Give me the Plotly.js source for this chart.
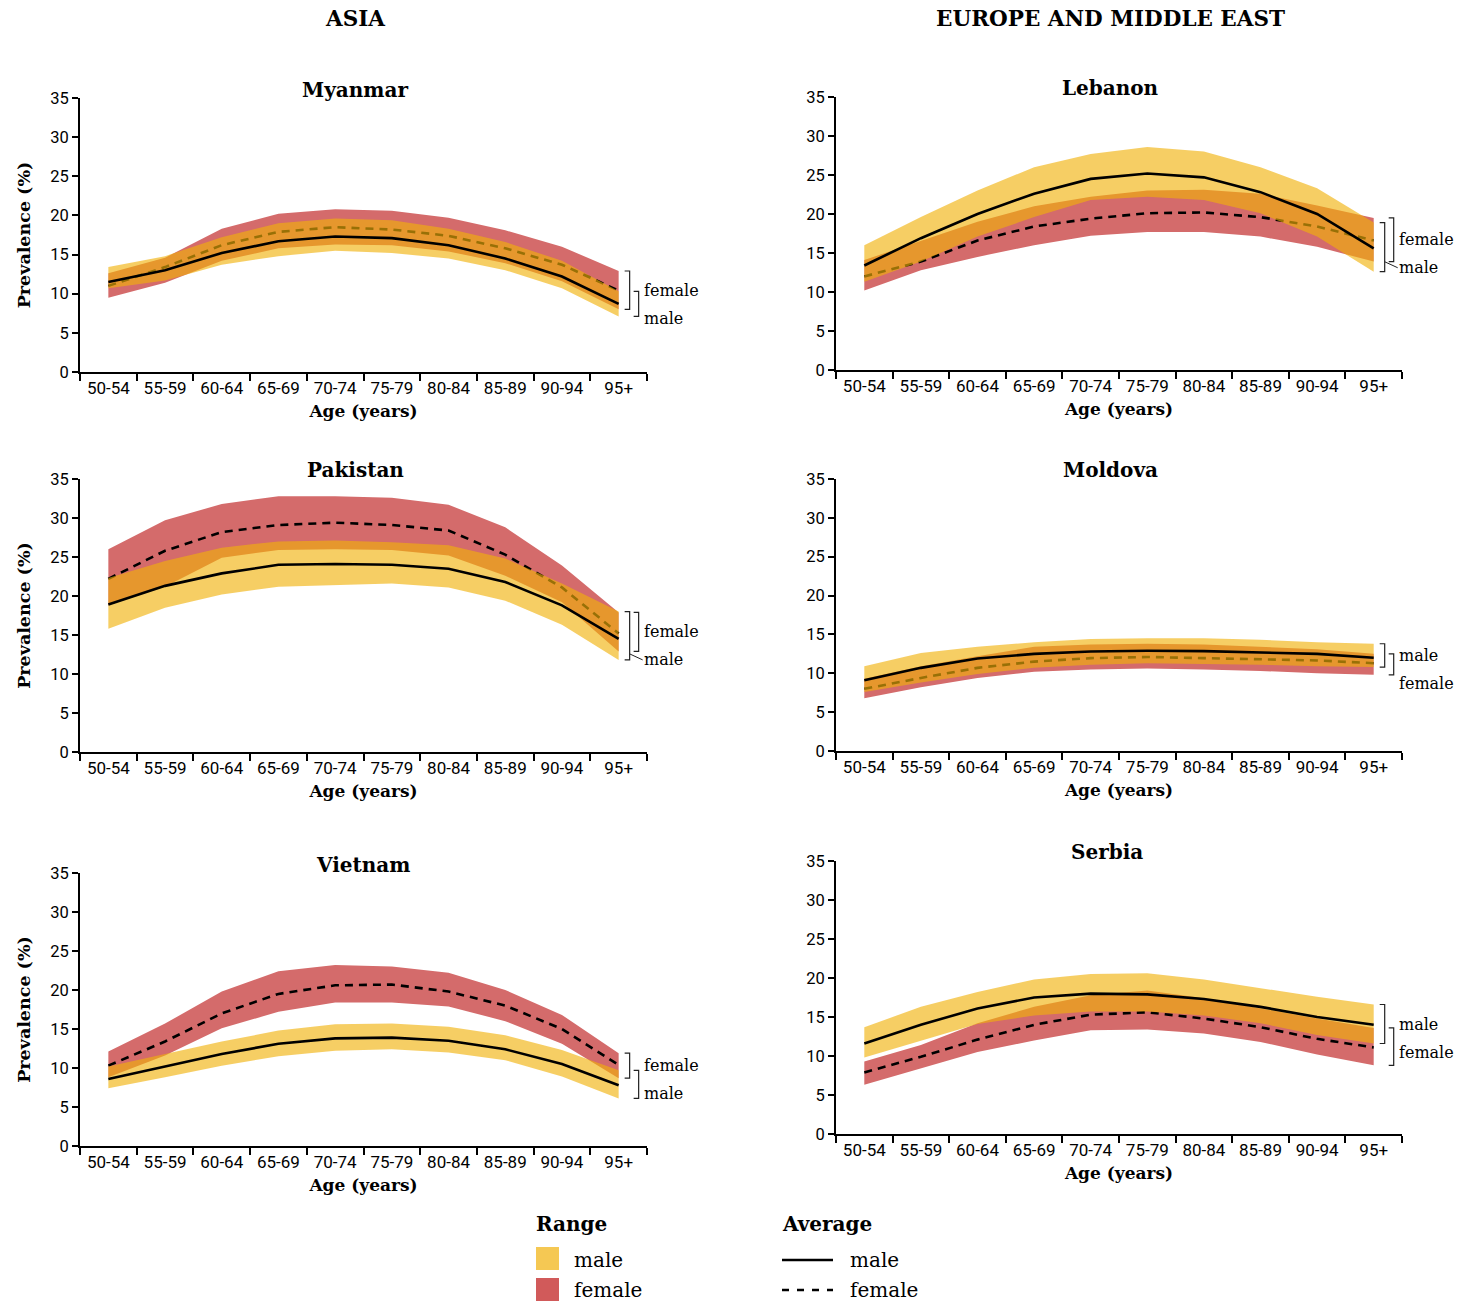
<!DOCTYPE html>
<html>
<head>
<meta charset="utf-8">
<script src="https://cdn.plot.ly/plotly-3.0.1.min.js"></script>
<style>html,body{margin:0;padding:0;background:#fff;}</style>
</head>
<body>
<div id="chart" style="width:1462px;height:1302px;"></div>
<script>
// ---------- DATA ----------
const ageGroups = ['50-54','55-59','60-64','65-69','70-74','75-79','80-84','85-89','90-94','95+'];
const yTickValues = [0, 5, 10, 15, 20, 25, 30, 35];
const countries = ['Myanmar','Lebanon','Pakistan','Moldova','Vietnam','Serbia'];
const regionTitles = ['ASIA','EUROPE AND MIDDLE EAST'];
const sexLabels = ['male','female'];

const myanmarMaleAvg   = [11.5, 13.0, 15.2, 16.7, 17.3, 17.1, 16.2, 14.5, 12.2, 8.7];
const myanmarMaleHi    = [13.4, 14.8, 17.2, 19.0, 19.6, 19.4, 18.3, 16.6, 14.2, 10.3];
const myanmarMaleLo    = [10.7, 11.7, 13.7, 14.8, 15.5, 15.2, 14.5, 13.0, 10.7, 7.1];
const myanmarFemaleAvg = [11.0, 13.4, 16.2, 17.9, 18.5, 18.2, 17.4, 15.8, 13.7, 10.4];
const myanmarFemaleHi  = [12.6, 14.6, 18.3, 20.2, 20.8, 20.6, 19.7, 18.1, 16.0, 12.9];
const myanmarFemaleLo  = [9.5, 11.4, 14.2, 15.8, 16.3, 16.2, 15.4, 13.9, 11.6, 8.0];

const lebanonMaleAvg   = [13.4, 16.9, 20.0, 22.6, 24.5, 25.2, 24.7, 22.8, 20.0, 15.6];
const lebanonMaleHi    = [16.0, 19.6, 23.0, 26.0, 27.7, 28.6, 28.0, 26.0, 23.3, 18.9];
const lebanonMaleLo    = [11.3, 13.9, 17.1, 19.6, 21.8, 22.2, 21.8, 20.1, 17.1, 12.6];
const lebanonFemaleAvg = [12.0, 13.9, 16.6, 18.4, 19.4, 20.1, 20.2, 19.6, 18.4, 16.6];
const lebanonFemaleHi  = [14.1, 16.6, 19.0, 21.0, 22.2, 23.0, 23.1, 22.6, 21.1, 19.5];
const lebanonFemaleLo  = [10.2, 12.8, 14.5, 16.0, 17.2, 17.7, 17.7, 17.1, 15.8, 13.9];

const pakistanMaleAvg   = [18.9, 21.3, 22.9, 24.0, 24.1, 24.0, 23.5, 21.8, 18.8, 14.5];
const pakistanMaleHi    = [22.3, 24.5, 26.2, 27.0, 27.1, 26.9, 26.5, 24.8, 21.6, 18.0];
const pakistanMaleLo    = [15.8, 18.5, 20.2, 21.2, 21.4, 21.6, 21.1, 19.4, 16.3, 11.8];
const pakistanFemaleAvg = [22.2, 25.8, 28.2, 29.1, 29.4, 29.1, 28.4, 25.3, 21.1, 15.2];
const pakistanFemaleHi  = [26.0, 29.7, 31.8, 32.8, 32.8, 32.6, 31.7, 28.8, 23.9, 17.9];
const pakistanFemaleLo  = [18.8, 21.2, 24.9, 25.9, 26.0, 25.9, 25.2, 22.6, 19.2, 12.9];

const moldovaMaleAvg   = [9.1, 10.7, 11.9, 12.5, 12.8, 12.9, 12.85, 12.7, 12.5, 12.0];
const moldovaMaleHi    = [10.9, 12.6, 13.4, 14.0, 14.4, 14.5, 14.5, 14.3, 14.0, 13.8];
const moldovaMaleLo    = [7.6, 8.8, 9.9, 10.7, 11.1, 11.3, 11.2, 11.1, 10.9, 10.8];
const moldovaFemaleAvg = [8.0, 9.4, 10.7, 11.5, 11.95, 12.1, 11.95, 11.8, 11.65, 11.3];
const moldovaFemaleHi  = [9.3, 10.9, 12.2, 13.4, 13.7, 13.8, 13.7, 13.4, 13.1, 12.5];
const moldovaFemaleLo  = [6.8, 8.2, 9.4, 10.2, 10.5, 10.6, 10.5, 10.3, 10.0, 9.8];

const vietnamMaleAvg   = [8.6, 10.2, 11.8, 13.1, 13.8, 13.9, 13.5, 12.4, 10.5, 7.8];
const vietnamMaleHi    = [10.2, 11.8, 13.4, 14.8, 15.6, 15.7, 15.3, 14.2, 12.3, 9.7];
const vietnamMaleLo    = [7.4, 8.8, 10.3, 11.5, 12.2, 12.4, 12.0, 11.0, 8.9, 6.1];
const vietnamFemaleAvg = [10.3, 13.4, 17.0, 19.5, 20.6, 20.7, 19.8, 18.0, 15.0, 10.4];
const vietnamFemaleHi  = [12.1, 15.7, 19.8, 22.4, 23.2, 23.0, 22.2, 20.0, 16.8, 11.9];
const vietnamFemaleLo  = [8.8, 11.6, 15.1, 17.2, 18.4, 18.4, 17.9, 16.0, 13.1, 8.7];

const serbiaMaleAvg   = [11.6, 14.0, 16.1, 17.5, 18.0, 17.9, 17.3, 16.3, 15.0, 14.0];
const serbiaMaleHi    = [13.7, 16.3, 18.2, 19.8, 20.5, 20.6, 19.8, 18.7, 17.6, 16.6];
const serbiaMaleLo    = [9.8, 12.0, 14.1, 15.2, 15.7, 15.7, 15.2, 14.2, 12.7, 11.6];
const serbiaFemaleAvg = [7.9, 9.9, 12.1, 14.0, 15.3, 15.6, 14.8, 13.7, 12.2, 11.1];
const serbiaFemaleHi  = [9.3, 11.4, 14.2, 16.3, 17.8, 18.4, 17.4, 16.1, 14.8, 13.6];
const serbiaFemaleLo  = [6.3, 8.4, 10.5, 12.0, 13.3, 13.4, 12.9, 11.8, 10.2, 8.8];

// ---------- STYLE / LAYOUT ----------
const W = 1462, H = 1302;
const RED = '#d46b6b';
const YELLOW = 'rgba(240,178,10,0.63)';
const SWATCH_YELLOW = '#f5c853';
const SWATCH_RED = '#d15a5a';
const SERIF = 'DejaVu Serif, Liberation Serif, serif';
const SANS = 'Roboto, Noto Sans, DejaVu Sans, sans-serif';
const px = x => x / W;
const py = y => 1 - y / H;

const panelData = {
  Myanmar: [myanmarMaleAvg, myanmarMaleLo, myanmarMaleHi, myanmarFemaleAvg, myanmarFemaleLo, myanmarFemaleHi],
  Lebanon: [lebanonMaleAvg, lebanonMaleLo, lebanonMaleHi, lebanonFemaleAvg, lebanonFemaleLo, lebanonFemaleHi],
  Pakistan: [pakistanMaleAvg, pakistanMaleLo, pakistanMaleHi, pakistanFemaleAvg, pakistanFemaleLo, pakistanFemaleHi],
  Moldova: [moldovaMaleAvg, moldovaMaleLo, moldovaMaleHi, moldovaFemaleAvg, moldovaFemaleLo, moldovaFemaleHi],
  Vietnam: [vietnamMaleAvg, vietnamMaleLo, vietnamMaleHi, vietnamFemaleAvg, vietnamFemaleLo, vietnamFemaleHi],
  Serbia: [serbiaMaleAvg, serbiaMaleLo, serbiaMaleHi, serbiaFemaleAvg, serbiaFemaleLo, serbiaFemaleHi]
};

// pixel boxes of each plot area and title positions
const panelGeom = {
  Myanmar:  {box:{l:80, r:647, t:98, b:372},   title:[355, 90],   left:true,  inner:'female'},
  Lebanon:  {box:{l:836, r:1402, t:97, b:370}, title:[1110, 88],  left:false, inner:'male'},
  Pakistan: {box:{l:80, r:647, t:479, b:752},  title:[355, 470],  left:true,  inner:'male'},
  Moldova:  {box:{l:836, r:1402, t:479, b:751},title:[1110, 470], left:false, inner:'male'},
  Vietnam:  {box:{l:80, r:647, t:873, b:1146}, title:[363, 865],  left:true,  inner:'female'},
  Serbia:   {box:{l:836, r:1402, t:861, b:1134},title:[1107, 852],left:false, inner:'male'}
};

const traces = [];
const layout = {
  width: W, height: H,
  margin: {l:0, r:0, t:0, b:0, pad:0},
  paper_bgcolor: '#fff', plot_bgcolor: 'rgba(0,0,0,0)',
  showlegend: false,
  font: {family: SERIF, color: '#000'},
  annotations: [], shapes: []
};

const last = ageGroups.length - 1;

countries.forEach((name, i) => {
  const s = i === 0 ? '' : String(i + 1);
  const g = panelGeom[name];
  const [mAvg, mLo, mHi, fAvg, fLo, fHi] = panelData[name];
  const xa = 'x' + s, ya = 'y' + s;
  const band = (hi, lo, color) => ({
    type: 'scatter', mode: 'lines', xaxis: xa, yaxis: ya,
    x: ageGroups.concat(ageGroups.slice().reverse()),
    y: hi.concat(lo.slice().reverse()),
    fill: 'toself', fillcolor: color, line: {width: 0, color: color},
    hoverinfo: 'skip', showlegend: false
  });
  const line = (vals, dash) => ({
    type: 'scatter', mode: 'lines', xaxis: xa, yaxis: ya,
    x: ageGroups, y: vals,
    line: {color: '#000', width: 2.6, dash: dash},
    hoverinfo: 'skip', showlegend: false
  });
  traces.push(band(fHi, fLo, RED));
  traces.push(line(fAvg, '8px,6px'));
  traces.push(band(mHi, mLo, YELLOW));
  traces.push(line(mAvg, 'solid'));

  layout['xaxis' + s] = {
    domain: [px(g.box.l), px(g.box.r)], anchor: ya,
    type: 'category', categoryorder: 'array', categoryarray: ageGroups,
    range: [-0.5, ageGroups.length - 0.5], tickson: 'boundaries',
    ticks: 'outside', ticklen: 7, tickwidth: 2, tickcolor: '#000',
    showline: true, linecolor: '#000', linewidth: 2,
    showgrid: false, zeroline: false, fixedrange: true,
    tickfont: {family: SANS, size: 17, color: '#000'},
    title: {text: 'Age (years)', font: {family: SERIF, size: 17, weight: 'bold', color: '#000'}, standoff: 8}
  };
  layout['yaxis' + s] = {
    domain: [py(g.box.b), py(g.box.t)], anchor: xa,
    range: [0, 35], tickmode: 'array', tickvals: yTickValues,
    ticks: 'outside', ticklen: 6, tickwidth: 2, tickcolor: '#000',
    showline: true, linecolor: '#000', linewidth: 2,
    showgrid: false, zeroline: false, fixedrange: true,
    tickfont: {family: SANS, size: 16.5, color: '#000'},
    title: g.left ? {text: 'Prevalence (%)', font: {family: SERIF, size: 17.5, weight: 'bold', color: '#000'}, standoff: 15} : {text: ''}
  };

  // panel title
  layout.annotations.push({
    xref: 'paper', yref: 'paper', x: px(g.title[0]), y: py(g.title[1]),
    xanchor: 'center', yanchor: 'middle', showarrow: false, text: name,
    font: {family: SERIF, size: 20, weight: 'bold', color: '#000'}
  });

  // brackets at the right end
  const k = (g.box.b - g.box.t) / 35; // px per unit
  const ranges = {male: [mLo[last], mHi[last]], female: [fLo[last], fHi[last]]};
  const offsets = {};
  offsets[g.inner] = [6, 11];
  offsets[g.inner === 'male' ? 'female' : 'male'] = [15, 20];
  const labels = sexLabels.map(sex => {
    const [lo, hi] = ranges[sex];
    const [a, b] = offsets[sex];
    layout.shapes.push({
      type: 'path', xref: xa, yref: ya, xsizemode: 'pixel', xanchor: last,
      path: `M ${a},${lo} L ${b},${lo} L ${b},${hi} L ${a},${hi}`,
      line: {color: '#222', width: 1.2}
    });
    const mid = (lo + hi) / 2;
    return {sex, vx: b, midPx: g.box.b - mid * k, posPx: g.box.b - mid * k};
  });
  labels.sort((p, q) => p.midPx - q.midPx);
  if (labels[1].posPx - labels[0].posPx < 28) labels[1].posPx = labels[0].posPx + 28;
  labels.forEach(L => {
    const val = (g.box.b - L.posPx) / k;
    layout.annotations.push({
      xref: xa, yref: ya, x: last, y: val, xshift: 23,
      xanchor: 'left', yanchor: 'middle', showarrow: false, text: L.sex,
      font: {family: SERIF, size: 16, color: '#000'}
    });
    if (L.posPx - L.midPx > 19.5) {
      layout.shapes.push({
        type: 'line', xref: xa, yref: ya, xsizemode: 'pixel', xanchor: last,
        x0: L.vx, x1: 24, y0: (g.box.b - (L.posPx - 6)) / k, y1: val,
        line: {color: '#222', width: 1}
      });
    }
  });
});

// region titles
[[regionTitles[0], 355], [regionTitles[1], 1110]].forEach(([t, x]) => {
  layout.annotations.push({
    xref: 'paper', yref: 'paper', x: px(x), y: py(18), xanchor: 'center', yanchor: 'middle',
    showarrow: false, text: t, font: {family: SERIF, size: 21.5, weight: 'bold', color: '#000'}
  });
});

// custom legend
const legText = (t, x, y, bold) => ({
  xref: 'paper', yref: 'paper', x: px(x), y: py(y), xanchor: 'left', yanchor: 'middle',
  showarrow: false, text: t, font: {family: SERIF, size: 20, weight: bold ? 'bold' : 'normal', color: '#000'}
});
layout.annotations.push(legText('Range', 534, 1224, true));
layout.annotations.push(legText(sexLabels[0], 572, 1260, false));
layout.annotations.push(legText(sexLabels[1], 572, 1290, false));
layout.annotations.push(legText('Average', 780, 1224, true));
layout.annotations.push(legText(sexLabels[0], 848, 1260, false));
layout.annotations.push(legText(sexLabels[1], 848, 1290, false));
layout.shapes.push({type: 'rect', xref: 'paper', yref: 'paper', x0: px(536), x1: px(559), y0: py(1270), y1: py(1247), fillcolor: SWATCH_YELLOW, line: {width: 0}});
layout.shapes.push({type: 'rect', xref: 'paper', yref: 'paper', x0: px(536), x1: px(559), y0: py(1301), y1: py(1278), fillcolor: SWATCH_RED, line: {width: 0}});
layout.shapes.push({type: 'line', xref: 'paper', yref: 'paper', x0: px(782), x1: px(833), y0: py(1260), y1: py(1260), line: {color: '#000', width: 2.5}});
layout.shapes.push({type: 'line', xref: 'paper', yref: 'paper', x0: px(782), x1: px(833), y0: py(1290), y1: py(1290), line: {color: '#000', width: 2.5, dash: '7px,8px'}});

Plotly.newPlot('chart', traces, layout, {displayModeBar: false, staticPlot: true});
</script>
</body>
</html>
